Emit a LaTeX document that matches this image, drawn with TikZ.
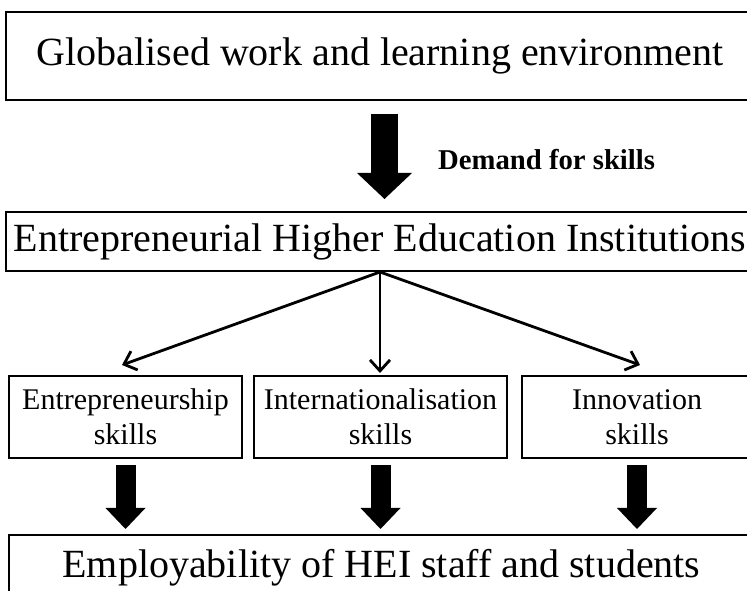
\documentclass[tikz,border=0pt]{standalone}
\usepackage{fontspec}
\setmainfont{Liberation Serif}
\usetikzlibrary{positioning, arrows.meta}
\definecolor{InkBlack}{RGB}{0, 0, 0}

\begin{document}
\begin{tikzpicture}[x=1pt, y=1pt,
    frame/.style={draw=InkBlack, line width=2pt, inner sep=0pt, align=center},
    bigtext/.style={font=\fontsize{40}{44}\selectfont},
    skilltext/.style={font=\fontsize{30}{35}\selectfont},
    thinarrow/.style={-{Straight Barb[length=11pt, width=20pt]}, line width=2.8pt, InkBlack},
    fatarrow/.style={-{Triangle[width=55pt, length=26pt, line width=0pt]}, line width=27pt, InkBlack},
    slimarrow/.style={-{Triangle[width=40pt, length=21pt, line width=0pt]}, line width=20pt, InkBlack}]
    \useasboundingbox (0,0) rectangle (747,591);
    \clip (0,0) rectangle (747,591);
    % Cajas
    \node[frame, bigtext, minimum width=748pt, minimum height=88pt] (glob) at (380,535) {Globalised work and learning environment};
    \node[frame, bigtext, minimum width=748pt, minimum height=59pt] (ehi) at (380,349.5) {Entrepreneurial Higher Education Institutions};
    \node[frame, skilltext, minimum width=233pt, minimum height=82pt] (ent) at (125.5,174) {Entrepreneurship\\skills};
    \node[frame, skilltext, minimum width=253pt, minimum height=82pt] (intl) at (380.5,174) {Internationalisation\\skills};
    \node[frame, skilltext, minimum width=230pt, minimum height=82pt] (inno) at (637,174) {Innovation\\skills};
    \node[frame, bigtext, minimum width=745pt, minimum height=66pt] (emp) at (381.5,23) {Employability of HEI staff and students};
    % Demanda
    \draw[fatarrow] ([xshift=4.5pt, yshift=-13pt]glob.south) -- ([xshift=4.5pt, yshift=12pt]ehi.north);
    \node[font=\bfseries\fontsize{28.7}{32}\selectfont, anchor=west, inner sep=0pt] (demand) at (438,431) {Demand for skills};
    % Habilidades
    \draw[thinarrow] (ehi.south) -- ([shift={(-3.5pt,10pt)}]ent.north);
    \draw[thinarrow] (ehi.south) -- ([yshift=2pt]ehi.south |- intl.north);
    \draw[thinarrow] (ehi.south) -- ([shift={(3pt,10pt)}]inno.north);
    \foreach \sk in {ent, intl, inno}
        \draw[slimarrow] ([yshift=-6pt]\sk.south) -- ([yshift=5pt]\sk.south |- emp.north);
\end{tikzpicture}
\end{document}
